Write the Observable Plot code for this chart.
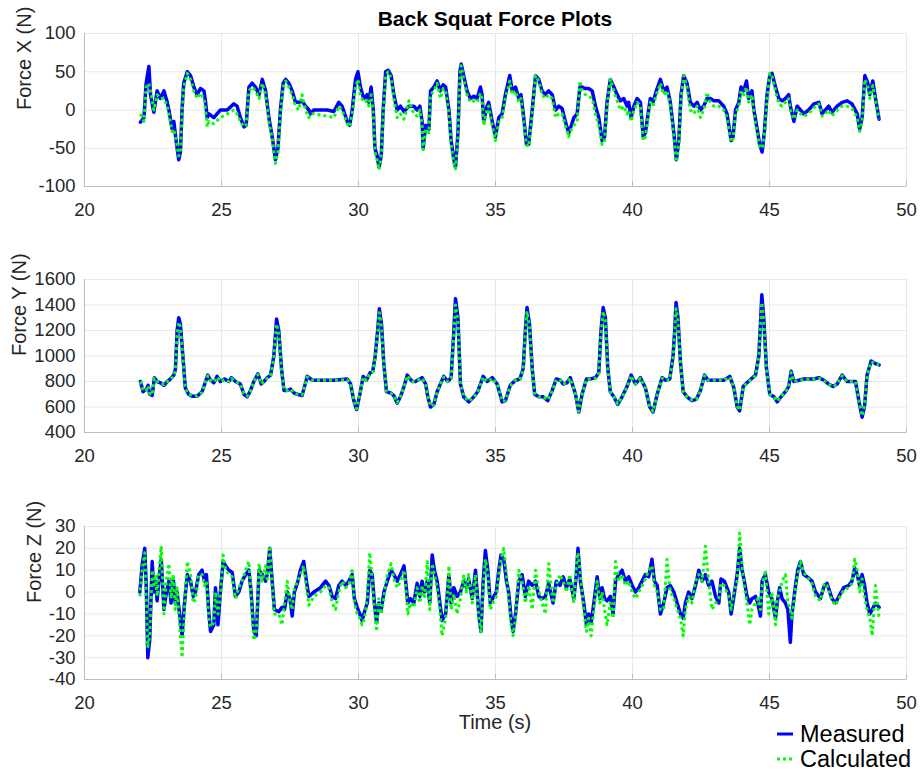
<!DOCTYPE html>
<html><head><meta charset="utf-8">
<script src="https://cdn.jsdelivr.net/npm/d3@7"></script>
<script src="https://cdn.jsdelivr.net/npm/@observablehq/plot@0.6"></script>
<style>
body{margin:0;background:#fff;}
#chart{position:relative;width:922px;height:775px;font-family:"Liberation Sans",Arial,Helvetica,sans-serif;color:#262626;overflow:hidden;}
.abs{position:absolute;white-space:nowrap;}
</style></head><body><div id="chart"></div>
<script>
const title = "Back Squat Force Plots";
const xLabel = "Time (s)";
const seriesNames = ["Measured", "Calculated"];
const timeTicks = [20, 25, 30, 35, 40, 45, 50];

// ---- Force X ----
const timeX = [
22.04,22.17,22.25,22.35,22.41,22.53,22.65,22.77,22.90,23.02,
23.08,23.20,23.26,23.35,23.44,23.50,23.56,23.62,23.75,23.87,
23.99,24.11,24.23,24.36,24.42,24.48,24.54,24.72,24.96,25.21,
25.45,25.57,25.69,25.82,25.90,26.00,26.12,26.24,26.37,26.49,
26.61,26.73,26.85,26.97,27.06,27.15,27.25,27.34,27.46,27.58,
27.70,27.82,27.94,28.07,28.19,28.25,28.37,28.86,29.10,29.28,
29.40,29.59,29.68,29.77,29.89,29.98,30.07,30.19,30.32,30.38,
30.46,30.54,30.60,30.68,30.75,30.83,30.90,30.99,31.08,31.19,
31.29,31.41,31.53,31.66,31.84,32.02,32.14,32.24,32.32,32.36,
32.45,32.57,32.63,32.75,32.87,32.99,33.09,33.18,33.30,33.38,
33.48,33.54,33.63,33.70,33.75,33.84,33.96,34.08,34.21,34.33,
34.45,34.51,34.57,34.69,34.75,34.88,35.00,35.12,35.24,35.36,
35.52,35.61,35.73,35.85,35.93,36.03,36.13,36.21,36.34,36.46,
36.58,36.70,36.82,36.94,37.07,37.19,37.31,37.43,37.55,37.67,
37.77,37.86,37.98,38.08,38.16,38.28,38.40,38.53,38.65,38.77,
38.89,38.98,39.07,39.19,39.32,39.44,39.56,39.68,39.80,39.86,
39.95,40.05,40.17,40.29,40.39,40.47,40.59,40.65,40.75,40.87,
41.02,41.14,41.26,41.38,41.51,41.60,41.69,41.77,41.87,41.99,
42.11,42.24,42.36,42.48,42.60,42.72,42.84,42.97,43.15,43.33,
43.45,43.60,43.67,43.76,43.88,43.96,44.06,44.16,44.24,44.36,
44.43,44.55,44.64,44.73,44.81,44.91,45.01,45.09,45.22,45.34,
45.46,45.58,45.70,45.76,45.89,46.01,46.13,46.25,46.43,46.62,
46.80,46.92,47.04,47.16,47.28,47.47,47.65,47.83,48.01,48.20,
48.29,48.38,48.48,48.59,48.66,48.77,48.87,49.00];
const fxMeasured = [
-16,-10,35,57,20,-3,25,15,25,10,
0,-25,-15,-42,-65,-55,0,35,50,45,
30,20,28,25,10,-10,-5,-10,0,0,
8,5,-10,-22,-20,30,35,30,20,40,
25,-10,-35,-65,-50,0,35,40,35,25,
10,10,12,5,0,-5,0,0,-2,10,
5,-15,-20,0,40,50,30,15,20,10,
30,0,-50,-60,-75,-60,0,50,52,45,
20,0,5,-2,5,5,0,5,-15,-50,
-20,-25,25,30,38,25,33,30,0,-40,
-65,-75,-30,50,60,45,25,15,18,15,
30,20,-15,5,10,-15,-35,-10,-5,20,
45,25,30,15,20,-10,-45,-45,0,45,
40,25,20,25,20,0,5,2,-15,-30,
-20,-10,-5,30,30,28,28,25,5,-10,
-40,-35,10,40,30,20,12,15,5,10,
-10,5,15,10,-35,-30,0,15,10,25,
40,25,30,10,-30,-65,-40,20,45,35,
10,5,10,0,5,15,15,12,12,5,
-5,-40,-35,0,10,30,25,38,15,25,
0,-25,-45,-55,-30,20,45,48,30,15,
12,15,20,5,-15,5,0,-5,0,8,
10,-5,0,5,-3,5,10,12,8,-5,
-25,-10,45,35,20,38,15,-12];
const fxCalculated = [
-5,-15,30,35,25,0,20,15,15,5,
-5,-28,-25,-40,-60,-55,-5,30,48,40,
25,15,22,15,0,-22,-15,-18,-10,-5,
0,-5,-15,-22,-20,25,30,25,15,35,
20,-15,-38,-70,-55,-5,30,38,30,20,
5,0,20,0,-10,-5,-5,-8,-10,5,
0,-18,-22,-5,30,40,20,10,12,5,
20,-5,-55,-65,-78,-62,-5,45,50,42,
15,-10,-5,-12,12,-5,-8,0,-20,-52,
-25,-30,20,25,35,15,28,25,-5,-45,
-70,-77,-35,45,58,40,20,10,12,10,
22,15,-20,0,5,-20,-40,-15,-10,15,
38,20,25,10,15,-15,-45,-48,-5,45,
38,20,15,20,15,-10,-5,-5,-20,-35,
-25,-20,-15,38,25,20,18,15,-5,-20,
-45,-40,5,40,25,12,0,5,-5,0,
-15,0,10,5,-40,-35,-5,10,5,20,
35,20,25,5,-35,-68,-45,15,45,30,
0,-5,5,-10,0,23,10,5,5,0,
-10,-42,-38,-5,5,25,20,30,10,20,
-5,-30,-48,-50,-35,15,48,45,25,8,
5,10,15,0,-12,0,-5,-8,-5,3,
8,-8,-5,0,-8,0,5,5,2,-10,
-28,-15,40,30,15,32,12,-12];
const fxTicks = [-100, -50, 0, 50, 100];

// ---- Force Y ----
const timeY = [
22.04,22.14,22.26,22.32,22.38,22.47,22.55,22.65,22.77,22.90,
23.02,23.14,23.26,23.32,23.38,23.44,23.50,23.59,23.68,23.80,
23.93,24.11,24.29,24.42,24.50,24.60,24.72,24.84,24.96,25.11,
25.27,25.36,25.51,25.69,25.82,25.94,26.06,26.18,26.33,26.45,
26.55,26.67,26.79,26.91,27.01,27.09,27.19,27.28,27.40,27.52,
27.64,27.76,27.94,28.03,28.13,28.31,28.49,29.10,29.59,29.71,
29.83,29.93,30.05,30.17,30.29,30.43,30.52,30.61,30.70,30.76,
30.84,30.92,31.02,31.17,31.29,31.41,31.53,31.66,31.78,31.96,
32.08,32.32,32.45,32.53,32.63,32.75,32.87,32.99,33.11,33.26,
33.38,33.48,33.54,33.63,33.72,33.84,34.02,34.21,34.35,34.55,
34.69,34.88,35.06,35.24,35.36,35.54,35.73,35.89,36.01,36.09,
36.15,36.24,36.34,36.43,36.58,36.74,36.91,37.07,37.22,37.37,
37.47,37.61,37.73,37.92,38.04,38.16,38.32,38.46,38.65,38.77,
38.85,38.93,39.01,39.10,39.19,39.32,39.46,39.62,39.80,39.95,
40.11,40.29,40.47,40.63,40.75,40.90,41.08,41.20,41.36,41.48,
41.54,41.59,41.66,41.75,41.85,41.99,42.17,42.33,42.48,42.63,
42.75,42.97,43.33,43.55,43.70,43.82,43.91,44.04,44.18,44.33,
44.49,44.61,44.67,44.72,44.79,44.89,45.01,45.16,45.28,45.42,
45.58,45.70,45.79,45.89,46.07,46.25,46.62,46.80,46.98,47.16,
47.32,47.47,47.65,47.83,48.14,48.26,48.38,48.47,48.56,48.71,
48.87,49.00];
const fyMeasured = [
800,720,740,770,700,690,830,800,790,770,
800,820,850,900,1200,1300,1250,1000,750,700,
685,685,720,800,850,810,790,840,800,820,
800,830,800,780,700,680,730,800,860,780,
800,830,850,1000,1290,1200,900,730,730,740,
710,700,690,760,840,810,810,810,820,780,
650,580,700,840,810,870,880,1000,1200,1370,
1250,950,720,710,690,630,680,760,850,800,
800,830,780,680,600,620,720,780,840,800,
830,1200,1450,1300,780,680,640,680,720,840,
800,830,780,640,650,770,810,820,900,1200,
1380,1250,900,700,680,680,650,730,820,810,
780,790,830,700,560,700,820,820,830,870,
1200,1380,1300,900,720,680,620,680,760,850,
780,830,750,600,560,700,830,810,820,1000,
1200,1420,1300,950,720,680,650,660,730,850,
810,810,810,840,750,600,570,760,790,820,
850,1000,1250,1480,1300,900,700,680,640,680,
720,760,880,800,810,820,820,830,810,780,
760,780,850,800,800,650,520,610,850,960,
940,930];
const fyCalculated = [
800,725,735,765,705,695,825,800,790,775,
800,815,845,890,1170,1265,1230,990,745,700,
690,685,715,800,845,810,795,835,800,815,
800,825,800,780,705,685,725,800,855,780,
800,825,845,990,1250,1180,890,735,730,740,
710,700,695,755,835,810,810,810,815,780,
655,585,700,835,810,865,875,990,1180,1340,
1230,940,725,710,690,635,680,755,845,800,
800,825,780,685,605,620,715,780,835,800,
825,1170,1400,1280,780,685,645,680,720,835,
800,825,780,645,650,765,810,815,890,1170,
1350,1230,890,705,680,680,655,725,815,810,
780,790,825,700,565,700,815,820,825,865,
1170,1350,1280,890,720,680,625,680,755,845,
780,825,750,605,565,700,825,810,815,990,
1180,1370,1280,940,720,680,655,660,725,845,
810,810,810,835,750,605,575,755,790,815,
845,990,1220,1420,1280,890,700,680,645,680,
720,760,870,800,810,815,820,825,810,780,
760,780,845,800,800,655,530,615,845,955,
940,930];
const fyTicks = [400, 600, 800, 1000, 1200, 1400, 1600];

// ---- Force Z ----
const timeZ = [
22.02,22.10,22.20,22.26,22.31,22.38,22.47,22.53,22.59,22.65,
22.71,22.80,22.90,22.99,23.08,23.16,23.24,23.31,23.38,23.47,
23.56,23.65,23.75,23.87,23.97,24.05,24.17,24.29,24.38,24.45,
24.54,24.60,24.72,24.78,24.87,24.96,25.06,25.15,25.27,25.39,
25.51,25.63,25.75,25.88,26.00,26.08,26.18,26.27,26.37,26.49,
26.61,26.67,26.76,26.85,26.93,27.09,27.21,27.30,27.40,27.50,
27.58,27.66,27.79,27.88,28.00,28.10,28.19,28.37,28.61,28.80,
28.92,29.04,29.16,29.28,29.40,29.53,29.65,29.77,29.85,29.95,
30.05,30.13,30.22,30.32,30.41,30.50,30.58,30.66,30.74,30.83,
30.93,31.05,31.19,31.29,31.41,31.53,31.66,31.72,31.80,31.90,
32.02,32.14,32.24,32.32,32.41,32.51,32.60,32.69,32.77,32.87,
32.97,33.05,33.18,33.30,33.38,33.48,33.60,33.72,33.84,33.94,
34.02,34.15,34.27,34.39,34.47,34.55,34.63,34.72,34.81,34.94,
35.03,35.12,35.20,35.30,35.40,35.48,35.57,35.64,35.73,35.85,
35.97,36.09,36.21,36.34,36.46,36.58,36.70,36.82,36.94,37.10,
37.22,37.35,37.47,37.59,37.71,37.86,37.95,38.01,38.10,38.22,
38.32,38.40,38.49,38.59,38.71,38.81,38.89,38.98,39.07,39.19,
39.29,39.38,39.50,39.62,39.74,39.86,39.99,40.11,40.23,40.35,
40.47,40.59,40.71,40.80,40.90,41.02,41.14,41.26,41.38,41.51,
41.63,41.75,41.85,41.93,42.05,42.17,42.30,42.42,42.54,42.66,
42.78,42.90,43.03,43.15,43.23,43.35,43.51,43.60,43.70,43.82,
43.91,44.00,44.08,44.18,44.28,44.36,44.49,44.57,44.67,44.73,
44.85,44.97,45.09,45.22,45.28,45.37,45.46,45.58,45.67,45.76,
45.82,45.95,46.03,46.13,46.25,46.37,46.55,46.68,46.86,47.00,
47.10,47.28,47.41,47.53,47.71,47.89,48.01,48.11,48.20,48.29,
48.38,48.47,48.56,48.66,48.75,48.87,49.00];
const fzMeasured = [
0,12,20,0,-30,-22,14,0,5,-4,
5,15,-8,0,5,-5,6,-5,0,-10,
-20,-5,8,5,-2,0,8,10,5,8,
-10,-18,-15,2,-15,0,14,12,10,9,
-2,0,5,8,10,0,-18,-20,10,8,
5,8,20,5,-8,-9,-7,-8,0,-3,
-11,0,5,10,14,5,-2,0,2,5,
3,-2,-3,3,5,3,5,8,-3,-7,
-10,-13,-9,-5,10,8,-5,-14,-5,-8,
0,5,10,8,5,8,12,5,-5,-3,
-5,4,-2,5,0,5,-5,17,10,5,
-5,-13,-10,8,-5,2,-2,0,5,2,
6,-3,10,-10,-18,5,19,10,-5,-2,
0,10,17,15,5,0,-12,-18,-10,5,
8,-2,5,3,5,-2,-3,-2,4,-5,
5,3,7,2,6,-3,8,20,5,-5,
-15,-10,-14,-5,7,-3,2,-3,-4,-2,
-10,5,8,10,5,7,3,0,2,5,
8,7,15,5,3,-10,-5,2,3,0,
-5,-10,-12,-5,0,-3,3,10,5,8,
3,5,-2,-5,6,5,0,-10,-2,8,
20,10,5,-2,-5,-3,-2,-5,-11,5,
8,0,-3,-12,-5,2,-3,-5,-8,-23,
-10,3,10,14,8,7,5,0,-3,3,
4,-3,-5,-2,2,3,5,11,8,3,
8,3,-5,-10,-8,-5,-7];
const fzCalculated = [
-2,10,18,-5,-25,-20,10,2,8,-2,
8,21,-10,5,13,-3,8,-8,2,-15,
-30,-8,14,8,-5,-3,8,8,3,5,
-12,-16,-14,0,-10,-2,17,10,8,7,
-3,2,5,10,14,-2,-22,-18,13,5,
12,6,21,3,-10,-10,-15,-5,5,-5,
-8,2,5,8,12,2,-6,-2,0,3,
2,-5,-8,0,5,2,3,11,-5,-10,
-12,-15,-12,-3,18,6,-8,-18,-3,-10,
-2,8,13,6,2,5,10,3,-10,-5,
-7,2,-5,3,-3,14,-8,13,8,2,
-8,-20,-12,12,-8,-1,-10,-3,8,0,
8,-5,8,-12,-18,2,15,8,-8,-4,
-2,8,15,20,8,-3,-15,-20,-12,10,
5,-5,3,-8,10,0,-5,-10,13,-5,
3,8,5,0,8,-5,12,18,8,-8,
-18,-12,-20,-8,5,-5,0,-8,-15,-5,
-12,14,5,8,3,5,0,-3,0,3,
6,10,12,3,0,-8,-8,15,0,-3,
-8,-12,-20,-8,-2,-5,5,8,5,21,
5,-8,-5,-3,4,3,-2,-8,0,5,
27,12,3,-5,-15,-8,-5,-3,-8,3,
10,-10,0,-15,-3,0,5,8,-5,-8,
-12,2,8,14,9,7,4,-2,-4,4,
3,-4,-6,-3,1,2,4,15,10,0,
6,-2,-8,-12,-20,3,-12];
const fzTicks = [-40, -30, -20, -10, 0, 10, 20, 30];

const panels = [
  {t: timeX, m: fxMeasured, c: fxCalculated, ticks: fxTicks, label: "Force X (N)", top: 0, labelDx: -60},
  {t: timeY, m: fyMeasured, c: fyCalculated, ticks: fyTicks, label: "Force Y (N)", top: 246, labelDx: -65},
  {t: timeZ, m: fzMeasured, c: fzCalculated, ticks: fzTicks, label: "Force Z (N)", top: 493, labelDx: -50}
];

const FONT = '"Liberation Sans", Arial, Helvetica, sans-serif';
const chart = document.getElementById("chart");
const colors = {measured: "#0000ff", calculated: "#00ff00"};

for (const p of panels) {
  const rows = p.t.map((t, i) => ({t, m: p.m[i], c: p.c[i]}));
  const yDomain = [p.ticks[0], p.ticks[p.ticks.length - 1]];
  const svg = Plot.plot({
    width: 922, height: 225,
    marginLeft: 84, marginRight: 16, marginTop: 33, marginBottom: 39,
    style: {fontFamily: FONT, fontSize: "18.5px", color: "#262626", background: "transparent", overflow: "visible"},
    x: {domain: [timeTicks[0], timeTicks[timeTicks.length - 1]]},
    y: {domain: yDomain},
    marks: [
      Plot.gridX(timeTicks, {stroke: "#e8e8e8", strokeOpacity: 1}),
      Plot.gridY(p.ticks, {stroke: "#e8e8e8", strokeOpacity: 1}),
      Plot.frame({stroke: "#e8e8e8"}),
      Plot.ruleY([yDomain[0]], {stroke: "#bdbdbd"}),
      Plot.ruleX([timeTicks[0]], {stroke: "#bdbdbd"}),
      Plot.axisX(timeTicks, {tickSize: -5, tickPadding: 21, stroke: "#bdbdbd", label: null, tickFormat: d => String(d)}),
      Plot.axisY(p.ticks, {tickSize: 0, tickPadding: 9, label: null, tickFormat: d => String(d)}),
      Plot.line(rows, {x: "t", y: "m", stroke: colors.measured, strokeWidth: 3.5}),
      Plot.line(rows, {x: "t", y: "c", stroke: colors.calculated, strokeWidth: 3, strokeDasharray: "3,3", strokeLinecap: "butt"}),
      Plot.text([p.label], {text: d => d, frameAnchor: "left", dx: p.labelDx, rotate: -90, fontSize: 20, fill: "#262626"})
    ]
  });
  svg.style.position = "absolute";
  svg.style.left = "0px";
  svg.style.top = p.top + "px";
  chart.appendChild(svg);
}

function addText(txt, css) {
  const d = document.createElement("div");
  d.className = "abs";
  d.textContent = txt;
  Object.assign(d.style, css);
  chart.appendChild(d);
  return d;
}
addText(title, {left: "84px", width: "822px", textAlign: "center", top: "8px", fontSize: "21px", lineHeight: "21px", fontWeight: "bold", color: "#000"});
addText(xLabel, {left: "84px", width: "822px", textAlign: "center", top: "714px", fontSize: "20px", lineHeight: "16px"});

// legend
const ns = "http://www.w3.org/2000/svg";
const leg = document.createElementNS(ns, "svg");
leg.setAttribute("width", 30); leg.setAttribute("height", 50);
Object.assign(leg.style, {position: "absolute", left: "770px", top: "722px"});
[[colors.measured, null, 12], [colors.calculated, "3,3", 37]].forEach(([col, dash, y]) => {
  const l = document.createElementNS(ns, "line");
  l.setAttribute("x1", 7); l.setAttribute("x2", 23);
  l.setAttribute("y1", y); l.setAttribute("y2", y);
  l.setAttribute("stroke", col); l.setAttribute("stroke-width", 3);
  if (dash) l.setAttribute("stroke-dasharray", dash);
  leg.appendChild(l);
});
chart.appendChild(leg);
addText(seriesNames[0], {left: "800px", top: "723px", fontSize: "23.5px", lineHeight: "23.5px", color: "#000"});
addText(seriesNames[1], {left: "800px", top: "748px", fontSize: "23.5px", lineHeight: "23.5px", color: "#000"});
</script></body></html>
